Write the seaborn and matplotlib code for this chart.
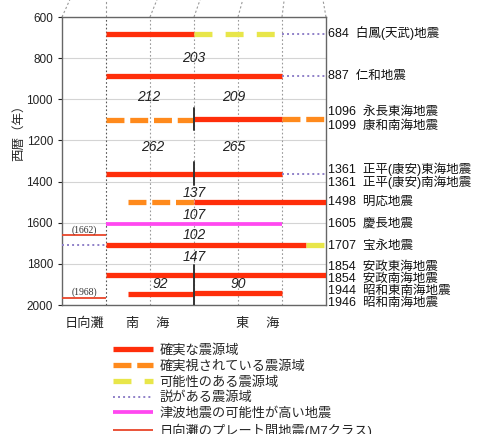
import numpy as np
import pandas as pd
import matplotlib
matplotlib.use("Agg")
import matplotlib.pyplot as plt
from matplotlib.lines import Line2D
import seaborn as sns

# 震源域セグメント（x: 0-1=日向灘, 1-3=南海, 3-6=東海）
seg_year  = [684, 684, 684, 887, 887, 1099, 1096, 1096, 1361, 1361, 1498, 1498,
             1605, 1707, 1707, 1707, 1662, 1854, 1946, 1944, 1968]
seg_start = [1, 3, 5, 1, 5, 1, 3, 5, 1, 5, 1.5, 3, 1, 1, 5.55, 0, 0, 1, 1.5, 3, 0]
seg_end   = [3, 5, 6, 5, 6, 3, 5, 6, 5, 6, 3, 6, 5, 5.55, 6, 1, 1, 6, 3, 5, 1]
seg_kind  = ["確実", "可能性", "説", "確実", "説", "確実視", "確実", "確実視", "確実", "説",
             "確実視", "確実", "津波", "確実", "可能性", "説", "日向灘", "確実", "確実", "確実", "日向灘"]

# 地震名ラベル
label_year = [684, 887, 1096, 1099, 1361, 1361, 1498, 1605, 1707, 1854, 1854, 1944, 1946]
label_name = ["白鳳(天武)地震", "仁和地震", "永長東海地震", "康和南海地震",
              "正平(康安)東海地震", "正平(康安)南海地震", "明応地震", "慶長地震",
              "宝永地震", "安政東海地震", "安政南海地震", "昭和東南海地震", "昭和南海地震"]

# 発生間隔（年）
interval_text = [203, 212, 209, 262, 265, 137, 107, 102, 147, 92, 90]

# 日向灘の地震
hyuga_year = [1662, 1968]

kinds = ["確実", "確実視", "可能性", "説", "津波", "日向灘"]
legend_labels = ["確実な震源域", "確実視されている震源域", "可能性のある震源域",
                 "説がある震源域", "津波地震の可能性が高い地震", "日向灘のプレート間地震(M7クラス)"]
styles = {
    "確実":   dict(color="#ff2e0a", lw=3.8, ls="-"),
    "確実視": dict(color="#ff8a1c", lw=3.8, ls=(0, (3.4, 1.1))),
    "可能性": dict(color="#e8e64a", lw=3.8, ls=(0, (3.4, 2.5))),
    "説":     dict(color="#8f80c8", lw=1.4, ls=(0, (1, 1.6))),
    "津波":   dict(color="#ff48f0", lw=2.7, ls="-"),
    "日向灘": dict(color="#e8452a", lw=1.3, ls="-"),
}

# セグメントを縦長データへ
rows = []
for i, (y, s, e, k) in enumerate(zip(seg_year, seg_start, seg_end, seg_kind)):
    rows.append({"seg": i, "x": s, "year": y, "kind": k})
    rows.append({"seg": i, "x": e, "year": y, "kind": k})
df = pd.DataFrame(rows)

sns.set_style("ticks")
plt.rcParams['font.family'] = ['Liberation Sans', 'Noto Sans CJK JP']

fig = plt.figure(figsize=(4.85, 4.34), dpi=100)
ax = fig.add_axes([62 / 485, 1 - 305 / 434, 264 / 485, 288 / 434])

# グリッド
ax.set_yticks(range(600, 2001, 200))
ax.yaxis.grid(True, color="#d4d4d4", lw=0.8)
for xv in [1, 2, 3, 4, 5]:
    ax.axvline(xv, color="#555" if xv == 1 else "#999", lw=0.8, ls=(0, (1.5, 2)), zorder=1)

# 上部の境界線（地図からの引き出し線）
for x0, dx in zip([0, 1, 2, 3, 4, 5, 6], [0.18, 0, 0.16, 0.14, 0.11, 0.05, -0.07]):
    ax.plot([x0, x0 + dx], [600, 515], color="#999", lw=0.8, ls=(0, (2, 2)), clip_on=False)

for k in kinds:
    sub = df[df["kind"] == k]
    st = styles[k]
    sns.lineplot(data=sub, x="x", y="year", units="seg", estimator=None, ax=ax,
                 color=st["color"], lw=st["lw"], linestyle=st["ls"], legend=False,
                 solid_capstyle="butt", dash_capstyle="butt", zorder=3)

# 区切りの縦線
for y0, y1 in zip([1044, 1307, 1805], [1151, 1415, 2000]):
    ax.plot([3, 3], [y0, y1], color="#333", lw=1.4, zorder=4)

# 間隔の数字
interval_x = [3, 1.98, 3.9, 2.07, 3.9, 3, 3, 3, 3, 2.23, 4.0]
interval_y = [800, 990, 990, 1230, 1230, 1455, 1563, 1660, 1765, 1900, 1900]
for xv, yv, t in zip(interval_x, interval_y, interval_text):
    ax.text(xv, yv, str(t), ha="center", va="center", fontsize=10, style="italic",
            color="#222", zorder=5)

# 日向灘の年
for yv, ty in zip(hyuga_year, [1634, 1937]):
    ax.text(0.5, ty, f"({yv})", ha="center", va="center", fontsize=7,
            family="Liberation Serif", color="#333")

# 右側の地震名
label_pos = [680, 885, 1060, 1128, 1340, 1404, 1498, 1605, 1712, 1815, 1873, 1932, 1990]
for yv, nm, py in zip(label_year, label_name, label_pos):
    ax.text(6.05, py, f"{yv}  {nm}", ha="left", va="center", fontsize=9,
            color="#111", clip_on=False)

ax.set_xlim(0, 6)
ax.set_ylim(2000, 600)
ax.set_xlabel("")
ax.set_xticks([])
ax.set_ylabel("西暦（年）", fontsize=9)
ax.yaxis.set_label_coords(-0.14, 0.61)
ax.tick_params(axis="y", labelsize=8.5, length=3, colors="#222")
for sp in ax.spines.values():
    sp.set_color("#666")
    sp.set_linewidth(1)
    sp.set_visible(True)

# 海域名
for xv, nm in zip([0.52, 1.95, 4.45], ["日向灘", "南\u3000 海", "東\u3000 海"]):
    ax.text(xv, 2090, nm, ha="center", va="center", fontsize=9.5, clip_on=False)

handles = [Line2D([0], [0], color=styles[k]["color"], lw=styles[k]["lw"],
                  ls=styles[k]["ls"], solid_capstyle="butt", dash_capstyle="butt")
           for k in kinds]
fig.legend(handles, legend_labels, loc="upper left", bbox_to_anchor=(113 / 485, 1 - 344 / 434),
           frameon=False, fontsize=9.5, handlelength=3.0, handletextpad=0.5,
           labelspacing=0.24, borderpad=0, borderaxespad=0)

fig.savefig("out.png", dpi=100)
